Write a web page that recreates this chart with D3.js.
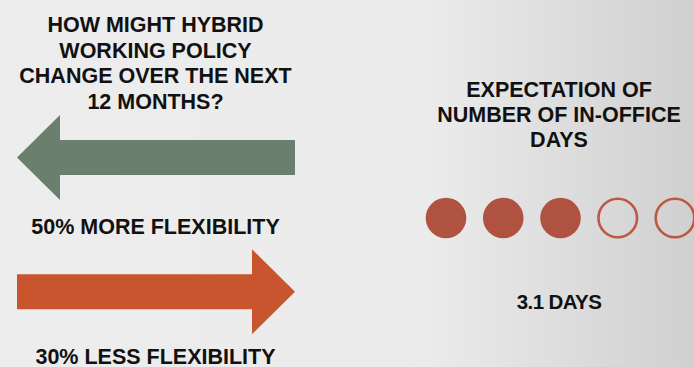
<!DOCTYPE html>
<html>
<head>
<meta charset="utf-8">
<script src="https://cdn.jsdelivr.net/npm/d3@7"></script>
<style>
html,body{margin:0;padding:0;background:#ececec;}
svg{display:block;}
text{font-family:"Liberation Sans",Arial,Helvetica,sans-serif;font-weight:bold;fill:#111;}
</style>
</head>
<body>
<svg id="chart" width="694" height="367"></svg>
<script>
// ---- data ----
const leftTitle = ["HOW MIGHT HYBRID", "WORKING POLICY", "CHANGE OVER THE NEXT", "12 MONTHS?"];
const policyLabels = ["MORE FLEXIBILITY", "LESS FLEXIBILITY"];
const policyValues = [50, 30];
const policyDirections = ["left", "right"];
const policyColors = ["#6a7f6d", "#c9552f"];
const rightTitle = ["EXPECTATION OF", "NUMBER OF IN-OFFICE", "DAYS"];
const dayIndex = [1, 2, 3, 4, 5];
const expectedDays = 3.1;
const dayLabel = "DAYS";

// ---- layout ----
const W = 694, H = 367;
const svg = d3.select("#chart");

const defs = svg.append("defs");
const grad = defs.append("linearGradient").attr("id", "bg").attr("x1", 0).attr("x2", 1).attr("y1", 0).attr("y2", 0);
grad.append("stop").attr("offset", "0%").attr("stop-color", "#ededed");
grad.append("stop").attr("offset", "62%").attr("stop-color", "#ebebeb");
grad.append("stop").attr("offset", "100%").attr("stop-color", "#d0d0d0");
svg.append("rect").attr("width", W).attr("height", H).attr("fill", "url(#bg)");

const fs = 21.5;
const leftCx = 155.5, rightCx = 559;

// left title
svg.append("g").selectAll("text").data(leftTitle).join("text")
  .attr("x", leftCx).attr("y", (d, i) => 32 + i * 25.6)
  .attr("text-anchor", "middle").attr("font-size", fs).text(d => d);

// arrows
const arrowX = d3.scaleLinear().domain([0, 1]).range([17, 295]);
const arrowRows = d3.scaleOrdinal().domain([0, 1]).range([157.5, 291.7]);
const shaftHalf = 17.5, headHalf = 42.5, headLen = 43;
const line = d3.line();
function arrowPts(dir, cy) {
  const x0 = arrowX(0), x1 = arrowX(1);
  if (dir === "left") {
    return [[x0, cy], [x0 + headLen, cy - headHalf], [x0 + headLen, cy - shaftHalf], [x1, cy - shaftHalf],
            [x1, cy + shaftHalf], [x0 + headLen, cy + shaftHalf], [x0 + headLen, cy + headHalf]];
  }
  return [[x1, cy], [x1 - headLen, cy - headHalf], [x1 - headLen, cy - shaftHalf], [x0, cy - shaftHalf],
          [x0, cy + shaftHalf], [x1 - headLen, cy + shaftHalf], [x1 - headLen, cy + headHalf]];
}
svg.append("g").selectAll("path").data(policyValues).join("path")
  .attr("d", (d, i) => line(arrowPts(policyDirections[i], arrowRows(i))) + "Z")
  .attr("fill", (d, i) => policyColors[i]);

// policy labels
const labelY = d3.scaleOrdinal().domain([0, 1]).range([234, 364]);
svg.append("g").selectAll("text").data(policyValues).join("text")
  .attr("x", leftCx).attr("y", (d, i) => labelY(i))
  .attr("text-anchor", "middle").attr("font-size", fs)
  .text((d, i) => d + "% " + policyLabels[i]);

// right title
svg.append("g").selectAll("text").data(rightTitle).join("text")
  .attr("x", rightCx).attr("y", (d, i) => 97 + i * 25)
  .attr("text-anchor", "middle").attr("font-size", fs).text(d => d);

// day circles
const dx = d3.scalePoint().domain(dayIndex).range([446, 675]);
const r = 20.3;
const filledColor = "#b05240";
svg.append("g").selectAll("circle").data(dayIndex).join("circle")
  .attr("cx", d => dx(d)).attr("cy", 218)
  .attr("r", d => d <= Math.floor(expectedDays) ? r : r - 1)
  .attr("fill", d => d <= Math.floor(expectedDays) ? filledColor : "none")
  .attr("stroke", d => d <= Math.floor(expectedDays) ? "none" : "#bd5843")
  .attr("stroke-width", 2.6);

// days label
svg.append("text").attr("x", rightCx).attr("y", 309)
  .attr("text-anchor", "middle").attr("font-size", 20.5).attr("letter-spacing", -0.6)
  .text(expectedDays + " " + dayLabel);
</script>
</body>
</html>
